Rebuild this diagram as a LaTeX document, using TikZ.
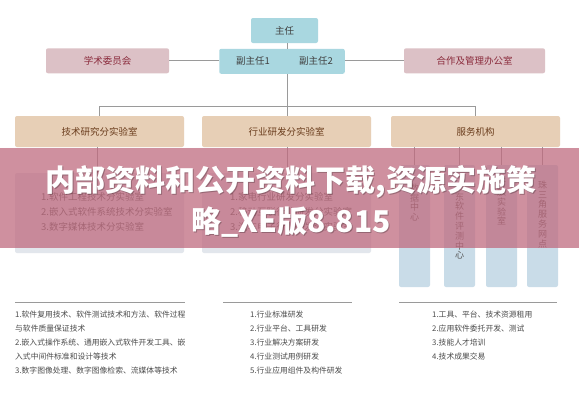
\documentclass[tikz,border=0pt]{standalone}
\usepackage{fontspec}
\setmainfont{Noto Sans CJK SC}
\definecolor{cTopBlue}{HTML}{A9D7E0}
\definecolor{cPink}{HTML}{DCC1C6}
\definecolor{cPinkText}{HTML}{8A2A3B}
\definecolor{cTan}{HTML}{E7CFB6}
\definecolor{cTanText}{HTML}{6A3C1C}
\definecolor{cBody}{HTML}{E2E6EC}
\definecolor{cCol}{HTML}{C9DCE8}
\definecolor{cLine}{HTML}{9A9A9A}
\definecolor{cTxt}{HTML}{555555}
\definecolor{cBanner}{HTML}{C06B7F}
\tikzset{
  box/.style={inner sep=0pt, rounded corners=2pt, font=\fontsize{9.5}{11}\selectfont},
  bluebox/.style={box, fill=cTopBlue, text=black!75, minimum height=25pt},
  pinkbox/.style={box, fill=cPink, text=cPinkText, minimum height=25pt},
  tanbox/.style={box, fill=cTan, text=cTanText, minimum width=169pt, minimum height=31pt},
  bodybox/.style={box, fill=cBody, minimum width=169pt, minimum height=80pt},
  colbox/.style={box, fill=cCol, minimum width=31pt, minimum height=122pt},
  conn/.style={draw=cLine, line width=0.8pt},
  rule/.style={draw=cLine, line width=0.8pt},
  bodytext/.style={inner sep=0pt, anchor=north west, align=left, text=cTxt, font=\fontsize{9.5}{15}\selectfont},
  vtext/.style={inner sep=0pt, anchor=north, align=center, text=cTxt, font=\fontsize{9}{9.8}\selectfont},
  listtext/.style={inner sep=0pt, anchor=north west, align=left, text=black!70, font=\fontsize{7.8}{14}\selectfont},
  bannertext/.style={inner sep=0pt, text=white, font=\fontsize{30}{32}\selectfont\bfseries},
  bannershadow/.style={inner sep=0pt, text=black, opacity=0.25, font=\fontsize{30}{32}\selectfont\bfseries}
}
\begin{document}
\begin{tikzpicture}[x=1pt,y=-1pt]
\useasboundingbox[fill=white] (0,0) rectangle (579,400);

% top level
\node[bluebox, minimum width=67pt] (zhuren) at (284.5,30.5) {主任};
\node[bluebox, minimum width=125.5pt] (fu) at (282,61.3) {};
\node[inner sep=0pt, text=black!75, font=\fontsize{9.5}{11}\selectfont] (fu1) at (253,61.3) {副主任1};
\node[inner sep=0pt, text=black!75, font=\fontsize{9.5}{11}\selectfont] (fu2) at (316,61.3) {副主任2};
\node[pinkbox, minimum width=123pt] (xueshu) at (107.5,60.8) {学术委员会};
\node[pinkbox, minimum width=141pt] (hezuo) at (474.5,60.8) {合作及管理办公室};

\coordinate (spine) at (287,106);
\coordinate (barL) at (99.5,106);
\coordinate (barR) at (475.5,106);

\draw[conn] (xueshu.east) -- (xueshu.east -| fu.west);
\draw[conn] (fu.east |- hezuo.west) -- (hezuo.west);
\draw[conn] (zhuren.south -| spine) -- (fu.north -| spine);
\draw[conn] (fu.south -| spine) -- (spine);
\draw[conn] (barL) -- (barR);

% second level
\node[tanbox] (tech) at (99.5,131.5) {技术研究分实验室};
\node[tanbox] (ind) at (286.5,131.5) {行业研发分实验室};
\node[tanbox] (serv) at (475.5,131.5) {服务机构};

\draw[conn] (barL) -- (barL |- tech.north);
\draw[conn] (spine) -- (spine |- ind.north);
\draw[conn] (barR) -- (barR |- serv.north);

% bodies
\node[bodybox] (techbody) at (99.5,213) {};
\node[bodybox] (indbody) at (286.5,213) {};
\node[bodytext] (techtxt) at (41,192) {1.软件工程技术分实验室\\2.嵌入式软件系统技术分实验室\\3.数字媒体技术分实验室};
\node[bodytext] (indtxt) at (230,192) {1.家电行业研发分实验室\\2.移动互联行业研发分实验室\\3.汽车电子行业研发分实验室};
\draw[conn] (tech.south -| 97,0) -- (techbody.north -| 97,0);
\draw[conn] (ind.south -| spine) -- (indbody.north -| spine);

\node[colbox] (c1) at (414.5,226) {};
\node[colbox] (c2) at (459.5,226) {};
\node[colbox] (c3) at (501.5,226) {};
\node[colbox] (c4) at (542.5,226) {};
\node[vtext] (v1) at (c1.center |- 0,183.5) {数\\据\\中\\心};
\node[vtext] (v2) at (c2.center |- 0,182.5) {广\\东\\软\\件\\评\\测\\中\\心};
\node[vtext] (v3) at (c3.center |- 0,178.5) {开\\放\\实\\验\\室};
\node[vtext] (v4) at (c4.center |- 0,180.5) {珠\\三\\角\\服\\务\\网\\点};
\draw[conn] (serv.south -| c1.center) -- (c1.north);
\draw[conn] (serv.south -| c2.center) -- (c2.north);
\draw[conn] (serv.south -| c3.center) -- (c3.north);
\draw[conn] (serv.south -| c4.center) -- (c4.north);

% banner overlay
\fill[cBanner, opacity=0.75] (0,148) rectangle (579,248);
\node[bannershadow] (b1s) at (292,183) {内部资料和公开资料下载,资源实施策};
\node[bannershadow] (b2s) at (292,223) {略\_XE版8.815};
\node[bannertext] (b1) at (291,182) {内部资料和公开资料下载,资源实施策};
\node[bannertext] (b2) at (291,222) {略\_XE版8.815};

% bottom lists
\draw[rule] (15,302) -- (185,302);
\draw[rule] (223,302) -- (352,302);
\draw[rule] (399,302) -- (557,302);
\node[listtext] (l1) at (15,310.5) {1.软件复用技术、软件测试技术和方法、软件过程\\与软件质量保证技术\\2.嵌入式操作系统、通用嵌入式软件开发工具、嵌\\入式中间件标准和设计等技术\\3.数字图像处理、数字图像检索、流媒体等技术};
\node[listtext] (l2) at (250,310.5) {1.行业标准研发\\2.行业平台、工具研发\\3.行业解决方案研发\\4.行业测试用例研发\\5.行业应用组件及构件研发};
\node[listtext] (l3) at (432,310.5) {1.工具、平台、技术资源租用\\2.应用软件委托开发、测试\\3.技能人才培训\\4.技术成果交易};
\end{tikzpicture}
\end{document}
